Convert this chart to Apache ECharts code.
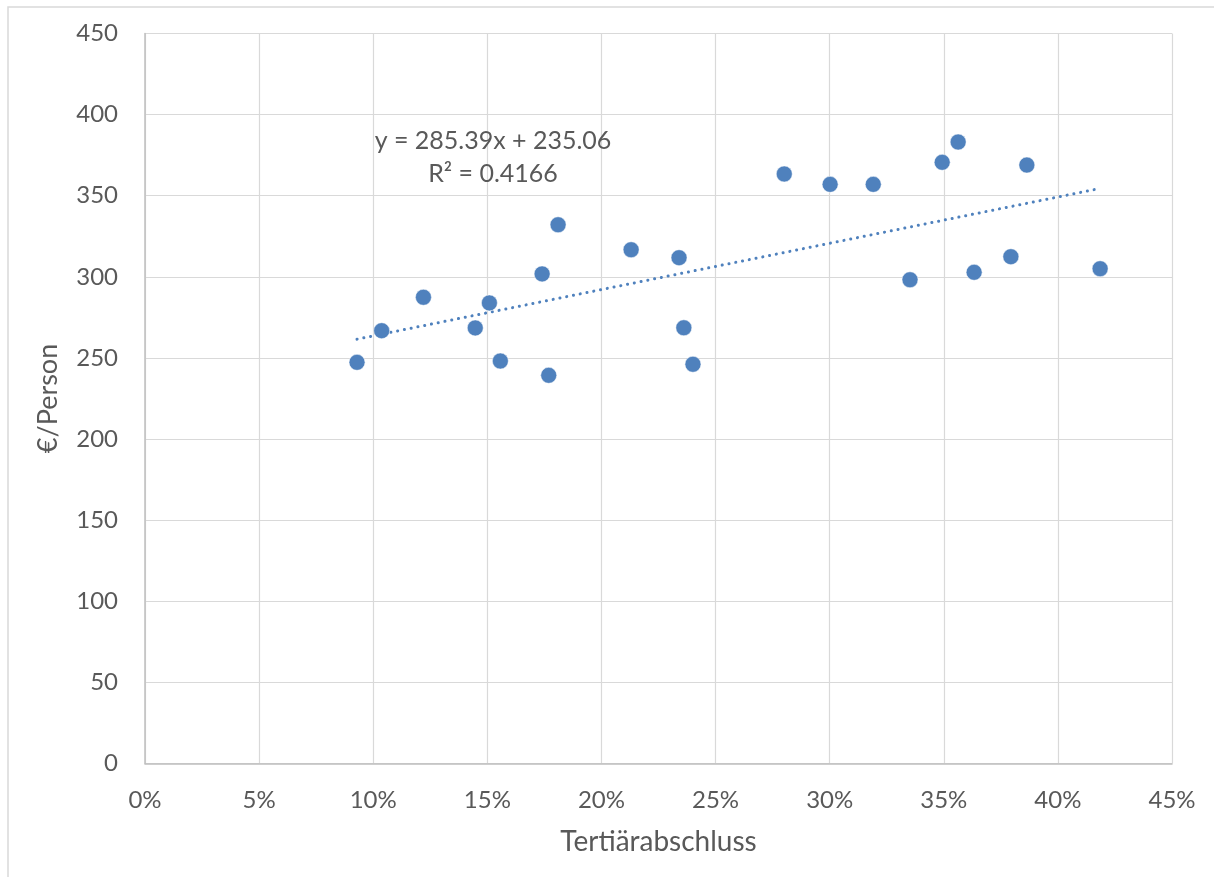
<!DOCTYPE html>
<html>
<head>
<meta charset="utf-8">
<script src="https://cdn.jsdelivr.net/npm/echarts@6/dist/echarts.min.js"></script>
<style>
  html, body { margin: 0; padding: 0; background: #ffffff; }
  #chart { width: 1214px; height: 877px; }
</style>
</head>
<body>
<div id="chart"></div>
<script>
// Share with tertiary degree (fraction) and spending in €/Person per region
const tertiaryShare = [
  0.0929, 0.1037, 0.1220, 0.1447, 0.1509, 0.1557, 0.1740, 0.1769,
  0.1810, 0.2130, 0.2340, 0.2361, 0.2401, 0.2801, 0.3002, 0.3191,
  0.3352, 0.3493, 0.3563, 0.3633, 0.3794, 0.3864, 0.4185
];
const eurPerPerson = [
  247.3, 266.8, 287.4, 268.5, 283.9, 248.1, 301.8, 239.3,
  332.1, 316.7, 311.8, 268.6, 246.1, 363.4, 357.0, 357.0,
  298.2, 370.6, 383.1, 302.8, 312.4, 368.9, 305.0
];

// Linear trend line coefficients (y = slope * x + intercept) and fit quality
const trendSlope = 285.39;
const trendIntercept = 235.06;
const trendR2 = 0.4166;

// Axis ticks
const xTicks = [0, 0.05, 0.10, 0.15, 0.20, 0.25, 0.30, 0.35, 0.40, 0.45];
const yTicks = [0, 50, 100, 150, 200, 250, 300, 350, 400, 450];

const points = tertiaryShare.map((x, i) => [x, eurPerPerson[i]]);
const xMinData = Math.min(...tertiaryShare);
const xMaxData = Math.max(...tertiaryShare);
const trendPoints = [xMinData, xMaxData].map(x => [x, trendSlope * x + trendIntercept]);

const FONT = 'Lato, "Open Sans", sans-serif';
const BLUE = '#4F81BD';
const TEXT = '#595959';

const chart = echarts.init(document.getElementById('chart'), null, { renderer: 'canvas' });

chart.setOption({
  backgroundColor: '#ffffff',
  animation: false,
  grid: { left: 145, right: 42, top: 33.5, bottom: 113.5, containLabel: false },
  xAxis: {
    type: 'value',
    min: xTicks[0],
    max: xTicks[xTicks.length - 1],
    interval: xTicks[1] - xTicks[0],
    name: 'Tertiärabschluss',
    nameLocation: 'middle',
    nameGap: 64,
    nameTextStyle: { fontFamily: FONT, fontSize: 28, color: TEXT },
    axisLine: { show: true, lineStyle: { color: '#BFBFBF', width: 1.5 } },
    axisTick: { show: false },
    axisLabel: {
      margin: 25,
      fontFamily: FONT, fontSize: 24, color: TEXT,
      formatter: v => Math.round(v * 100) + '%'
    },
    splitLine: { show: true, lineStyle: { color: '#D9D9D9', width: 1.2 } }
  },
  yAxis: {
    type: 'value',
    min: yTicks[0],
    max: yTicks[yTicks.length - 1],
    interval: yTicks[1] - yTicks[0],
    name: '€/Person',
    nameLocation: 'middle',
    nameGap: 83,
    nameRotate: 90,
    nameTextStyle: { fontFamily: FONT, fontSize: 27, color: TEXT },
    axisLine: { show: true, lineStyle: { color: '#BFBFBF', width: 1.5 } },
    axisTick: { show: false },
    axisLabel: { margin: 27, fontFamily: FONT, fontSize: 24, color: TEXT },
    splitLine: { show: true, lineStyle: { color: '#D9D9D9', width: 1.2 } }
  },
  series: [
    {
      name: 'Daten',
      type: 'scatter',
      data: points,
      symbol: 'circle',
      symbolSize: 16,
      itemStyle: { color: BLUE, opacity: 1, borderColor: '#ffffff', borderWidth: 0.5 },
      z: 3
    },
    {
      name: 'Trend',
      type: 'line',
      data: trendPoints,
      showSymbol: false,
      symbol: 'none',
      lineStyle: { color: BLUE, width: 3, type: [0.1, 6.8], cap: 'round' },
      z: 2
    }
  ],
  graphic: [
    {
      type: 'rect',
      shape: { x: 8, y: 7, width: 1300, height: 1000 },
      style: { fill: 'none', stroke: '#D9D9D9', lineWidth: 1.5 },
      silent: true, z: 0
    },
    {
      type: 'text',
      x: 493, y: 141,
      style: {
        text: 'y = ' + trendSlope.toFixed(2) + 'x + ' + trendIntercept.toFixed(2),
        fontFamily: FONT, fontSize: 25, fill: TEXT,
        align: 'center', verticalAlign: 'middle'
      },
      z: 10
    },
    {
      type: 'text',
      x: 493, y: 174,
      style: {
        text: 'R² = ' + trendR2.toFixed(4),
        fontFamily: FONT, fontSize: 25, fill: TEXT,
        align: 'center', verticalAlign: 'middle'
      },
      z: 10
    }
  ]
});
</script>
</body>
</html>
